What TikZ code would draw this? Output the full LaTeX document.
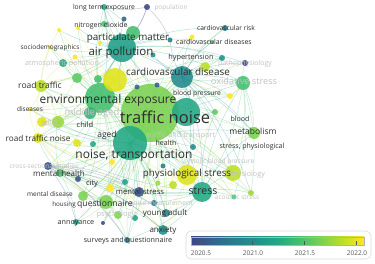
\documentclass[tikz,border=0pt]{standalone}
\usepackage{fontspec}
\setmainfont{Open Sans}
\definecolor{V20}{HTML}{414487}
\definecolor{V25}{HTML}{3B528B}
\definecolor{V30}{HTML}{33638D}
\definecolor{V35}{HTML}{2C728E}
\definecolor{V40}{HTML}{287D8E}
\definecolor{V45}{HTML}{238A8D}
\definecolor{V50}{HTML}{21918C}
\definecolor{V55}{HTML}{1F9F88}
\definecolor{V60}{HTML}{22A884}
\definecolor{V65}{HTML}{2FB47C}
\definecolor{V70}{HTML}{44BF70}
\definecolor{V75}{HTML}{5EC962}
\definecolor{V80}{HTML}{7AD151}
\definecolor{V85}{HTML}{9BD93C}
\definecolor{V90}{HTML}{BDDF26}
\definecolor{V95}{HTML}{DFE318}
\definecolor{V100}{HTML}{FDE725}
\definecolor{labc}{HTML}{2E2E2E}
\definecolor{flabc}{HTML}{C2C2C2}
\definecolor{boxc}{HTML}{DCDCDC}
\definecolor{tickc}{HTML}{555555}
\pgfdeclarehorizontalshading{viridisbar}{100bp}{color(0bp)=(V20); color(25bp)=(V20); color(31.25bp)=(V30); color(37.5bp)=(V40); color(43.75bp)=(V50); color(50bp)=(V60); color(56.25bp)=(V70); color(62.5bp)=(V80); color(68.75bp)=(V90); color(75bp)=(V100); color(100bp)=(V100)}
\newcommand\fs[1]{\fontsize{#1}{#1}\selectfont}
\def\nodelist{tn/150/113/29/V80, nt/130/143/17/V60, ee/100/98/15/V70, ap/122/48/14/V55, tn2/186/112/14/V60, yl1/115/80/12/V95, cd/182/77/11/V45, ps/187/175/10/V95, st/202/192/10/V60, phy/233/173/8/V90, qu/106/202/7/V80, pm/133/33/7/V70, os/243/83/7/V70, me/254/133/6/V80, rt/41/86/6/V90, ladult/58/122/6/V85, ma/90/113/6/V65, yadult/42/122/5/V95, rtn/38/138/5/V95, ms/139/192/5/V25, anx/163/230/5/V50, g1/77/78/5/V75, g3/83/196/5/V80, yg/205/67/5/V90, ch/77/143/4/V95, mh/60/173/4/V70, cross/48/166/4/V25, atm/63/63/4/V60, g2/98/79/4/V70, ya/166/213/4/V40, psych/118/215/4/V80, y7/110/188/4/V100, yg2/173/185/4/V90, lte/104/7/3/V60, pur/147/7/3/V20, no2/104/24/3/V70, city/78/179/3/V25, ag/93/144/3/V60, cvr/225/28/3/V40, hyp/222/58/3/V50, patho/245/63/3/V20, bp/230/96/3/V100, blood/215/112/3/V75, spn/193/147/3/V45, saq/127/240/3/V40, ann/76/222/3/V55, lime2/251/193/3/V85, t4/125/182/3/V55, t5/135/218/3/V55, b5/154/203/3/V35, y8/112/162/3/V100, blue1/124/19/2.5/V30, b2/170/40/2.5/V40, t2/153/55/2.5/V50, b3/157/85/2.5/V30, b4/137/87/2.5/V30, y6/192/37/2.5/V100, y5/75/57/2.5/V100, ac/234/197/2.5/V70, t6/163/166/2.5/V40, l3/158/183/2.5/V85, y2/59/30/2/V100, y3/78/28/2/V100, socio/50/47/2/V100, y4/100/43/2/V100, cvds/212/42/2/V70, pur2/103/223/2/V20, dis/30/109/2/V100}
\def\edgelist{%
tn/V80/{ee,nt,ap,pm,yl1,cd,ps,st,phy,qu,me,os,rt,rtn,yadult,ladult,ma,ch,ag,mh,cross,city,lte,no2,socio,atm,g1,g2,cvr,cvds,hyp,patho,yg,bp,blood,spn,ms,ya,anx,saq,ann,g3,psych,ac,lime2,dis,y7,t4,b5,yg2,y8,tn2,t5,t6,l3,y6,b3,b4,y5,pur2},
ee/V70/{nt,ap,pm,yl1,cd,ps,st,qu,rt,rtn,yadult,ladult,ma,mh,atm,g1,socio,dis,me,os,anx,ms,y7,phy,lte,no2,g3,city,cross,ya,saq,hyp,blood,bp,y3,y2},
nt/V60/{ap,cd,ps,st,phy,qu,me,rtn,mh,cross,city,ms,ya,anx,saq,ann,g3,psych,ac,lime2,y7,t4,t5,b5,os,bp,rt,ladult,yadult,dis,blood,spn,hyp,pur2},
ap/V55/{pm,yl1,cd,lte,no2,blue1,y2,y3,socio,atm,g1,g2,y4,y5,b2,t2,cvr,cvds,hyp,rt,os,patho,rtn,ps,st,me},
cd/V45/{hyp,cvr,cvds,patho,os,bp,blood,me,yg,st,ps,y6,b2,t2,phy,lime2,spn},
ps/V95/{st,phy,ms,qu,anx,ya,me,lime2,ac,yg2,rtn,mh,y7,os},
st/V60/{phy,ms,anx,ya,me,os,lime2,ac,qu,mh,cross,saq,rtn,blood},
qu/V80/{mh,ann,saq,anx,ms,g3,psych,city,cross,rtn},
mh/V70/{cross,city,ann,ms,anx,saq,ya,rtn,ladult},
cross/V25/{ms,ya,anx,saq,t4,ann,city},
rtn/V95/{rt,yadult,ladult,dis,mh,anx,st,ch,g3},
rt/V90/{yl1,ladult,yadult,dis,socio,y5,g1,y2},
yl1/V95/{socio,y2,y3,y5,yadult,ps,y7,bp,y6,dis,ladult},
ladult/V85/{yadult,dis,ch,ma,g1},
os/V70/{me,patho,phy,st,bp,lime2,ac},
pur/V20/{lte,ap,b2,pm},
lte/V60/{ap,pm,no2,ee}}
\begin{document}
\begin{tikzpicture}[x=1pt,y=-1pt,
  edge/.style={line width=0.5pt, opacity=0.3},
  lab/.style={inner sep=0pt, text=labc, text height=.72em, text depth=.2em, anchor=center},
  flab/.style={lab, text=flabc}]
\useasboundingbox (0,0) rectangle (375,264);
\fill[white] (0,0) rectangle (375,264);
% node positions
\foreach \n/\x/\y/\r/\c in \nodelist {\coordinate (\n) at (\x,\y);}
% connectors
\foreach \h/\c/\lst in \edgelist {
  \foreach \b in \lst {\draw[edge,\c] (\h) to[bend left=12] (\b);}
}
% nodes
\foreach \n/\x/\y/\r/\c in \nodelist {\fill[\c, opacity=0.88] (\n) circle[radius=\r pt];}
% faded labels
\node[flab, font=\fs{7.2}] (Latm) at (62,63) {atmospheric pollution};
\node[flab, font=\fs{9.2}] (Los) at (244,82) {oxidative stress};
\node[flab, font=\fs{7}] (Lpatho) at (245,63) {pathophysiology};
\node[flab, font=\fs{9.5}] (Lma) at (92,113) {middle aged};
\node[flab, font=\fs{7.3}] (Ltat) at (181,135) {traffic and transport};
\node[flab, font=\fs{6.6}] (Lsbp) at (219,161) {systolic blood pressure};
\node[flab, font=\fs{6.8}] (Lnm) at (161,203) {noise measurement};
\node[flab, font=\fs{7.5}] (Lpsy) at (116,214) {psychology};
\node[flab, font=\fs{6.5}] (Lac) at (237,197) {acoustic stress};
\node[flab, font=\fs{7.2}] (Lphy) at (247,174) {physiology};
\node[flab, font=\fs{6.5}] (Lcross) at (44,166) {cross-sectional studies};
\node[flab, font=\fs{7}] (Ladult) at (50,123) {adult};
\node[flab, font=\fs{6.5}] (Lpop) at (171,7) {population};
% labels
\node[lab, font=\fs{16.5}] (Ltn) at (165,121) {traffic noise};
\node[lab, font=\fs{12}] (Lnt) at (134,156) {noise, transportation};
\node[lab, font=\fs{12}] (Lee) at (108,101) {environmental exposure};
\node[lab, font=\fs{11.5}] (Lap) at (121,53) {air pollution};
\node[lab, font=\fs{9.8}] (Lpm) at (128,38) {particulate matter};
\node[lab, font=\fs{9.9}] (Lcd) at (178,73) {cardiovascular disease};
\node[lab, font=\fs{9.8}] (Lps) at (187,174) {physiological stress};
\node[lab, font=\fs{10.5}] (Lst) at (203,192) {stress};
\node[lab, font=\fs{8.5}] (Lme) at (253,132) {metabolism};
\node[lab, font=\fs{8.6}] (Lqu) at (105,204) {questionnaire};
\node[lab, font=\fs{8.5}] (Lrt) at (40,86) {road traffic};
\node[lab, font=\fs{8.2}] (Lrtn) at (38,139) {road traffic noise};
\node[lab, font=\fs{8}] (Lmh) at (59,174) {mental health};
\node[lab, font=\fs{6.8}] (Llte) at (104,7) {long term exposure};
\node[lab, font=\fs{7}] (Lno2) at (101,25) {nitrogen dioxide};
\node[lab, font=\fs{6.5}] (Lsocio) at (50,47) {sociodemographics};
\node[lab, font=\fs{6.7}] (Lcvr) at (226,28) {cardiovascular risk};
\node[lab, font=\fs{6.9}] (Lcvds) at (214,42) {cardiovascular diseases};
\node[lab, font=\fs{7.3}] (Lhyp) at (191,57) {hypertension};
\node[lab, font=\fs{6.8}] (Lbp) at (197,93) {blood pressure};
\node[lab, font=\fs{7}] (Lblood) at (240,119) {blood};
\node[lab, font=\fs{7}] (Lspn) at (252,146) {stress, physiological};
\node[lab, font=\fs{7.7}] (Lms) at (140,192) {mental stress};
\node[lab, font=\fs{8}] (Lya) at (165,213) {young adult};
\node[lab, font=\fs{8}] (Lanx) at (163,230) {anxiety};
\node[lab, font=\fs{7.2}] (Lsaq) at (128,240) {surveys and questionnaire};
\node[lab, font=\fs{7.2}] (Lann) at (76,222) {annoyance};
\node[lab, font=\fs{7.5}] (Lcity) at (92,183) {city};
\node[lab, font=\fs{6.5}] (Lmd) at (50,194) {mental disease};
\node[lab, font=\fs{6.3}] (Lhou) at (64,204) {housing};
\node[lab, font=\fs{7.5}] (Lch) at (85,125) {child};
\node[lab, font=\fs{8.5}] (Lag) at (107,135) {aged};
\node[lab, font=\fs{7}] (Lhe) at (166,143) {health};
\node[lab, font=\fs{6.5}] (Ldis) at (30,109) {diseases};
% legend
\draw[boxc, line width=0.6pt, rounded corners=5pt, fill=white] (186,231) rectangle (371,259);
\shade[shading=viridisbar] (191,237) rectangle (364,245);
\draw[gray!60, line width=0.4pt] (191,237) rectangle (364,245);
\foreach \tx/\tl in {200/2020.5, 252/2021.0, 304/2021.5, 356/2022.0} {
  \draw[tickc, line width=0.5pt] (\tx,241.5) -- (\tx,245);
  \node[inner sep=0pt, text=tickc, font=\fs{6.5}] at (\tx+1,253) {\tl};
}
\end{tikzpicture}
\end{document}
